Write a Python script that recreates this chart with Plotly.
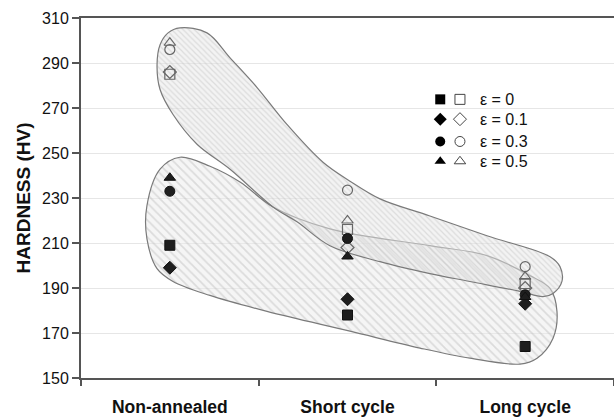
import plotly.graph_objects as go

# ---------------- data ----------------
categories = ["Non-annealed", "Short cycle", "Long cycle"]
cat_pos = [0, 1, 2]
series_names = ["ε = 0", "ε = 0.1", "ε = 0.3", "ε = 0.5"]
symbols = ["square", "diamond", "circle", "triangle-up"]

# filled markers (one per category)
filled_eps0 = [209, 178, 164]
filled_eps01 = [199, 185, 183]
filled_eps03 = [233, 212, 187]
filled_eps05 = [239, 204, 186]
# open markers
open_eps0 = [285, 216, 192]
open_eps01 = [286, 208, 190]
open_eps03 = [296, 233.5, 199.5]
open_eps05 = [299, 220, 195]

filled_series = [filled_eps0, filled_eps01, filled_eps03, filled_eps05]
open_series = [open_eps0, open_eps01, open_eps03, open_eps05]

# hand-drawn envelopes (category index, hardness)
upper_x = [0.057, 0.209, 0.339, 0.491, 0.659, 0.862, 1.014, 1.183, 1.464, 1.785, 2.140, 2.196, 2.207,
           2.157, 2.100, 1.971, 1.689, 1.464, 1.183, 0.901, 0.716, 0.581, 0.339, 0.153, 0.018,
           -0.055, -0.072, -0.055, -0.010, 0.057]
upper_y = [305.6, 303.4, 292.3, 279.1, 262.7, 245.9, 237.5, 229.6, 222.0, 213.2, 203.9, 199.5, 192.9,
           187.6, 186.2, 188.5, 192.9, 196.4, 201.7, 208.8, 219.4, 226.0, 242.8, 253.9, 267.1,
           278.2, 289.2, 298.1, 303.4, 305.6]
lower_x = [0.057, 0.226, 0.395, 0.581, 0.901, 1.464, 1.785, 2.027, 2.140, 2.179, 2.157, 2.067, 1.971,
           1.689, 1.408, 1.014, 0.547, 0.226, 0.018, -0.072, -0.129, -0.129, -0.055, 0.057]
lower_y = [248.1, 244.1, 237.1, 226.0, 216.3, 208.8, 204.4, 195.5, 189.8, 179.6, 167.7, 158.8, 156.2,
           158.8, 163.3, 170.8, 179.6, 186.7, 192.9, 198.6, 211.9, 226.5, 242.8, 248.1]

y_ticks = [150, 170, 190, 210, 230, 250, 270, 290, 310]
boundaries = [-0.5, 0.5, 1.5, 2.5]

# legend layout (overlay axis coords)
leg_rows_y = [0.774, 0.719, 0.657, 0.602]
leg_filled_x = 0.674
leg_open_x = 0.711
leg_text_x = 0.745

FONT = "Liberation Sans, Arial, sans-serif"
fig = go.Figure()

# envelopes
fig.add_trace(go.Scatter(
    x=lower_x, y=lower_y, mode="lines", fill="toself",
    line=dict(color="#7a7a7a", width=1.2, shape="spline", smoothing=1.0),
    fillcolor="rgba(0,0,0,0)",
    fillpattern=dict(shape="\\", size=6, solidity=0.3,
                     fgcolor="rgba(175,175,175,0.75)", bgcolor="rgba(236,236,236,0.5)"),
    hoverinfo="skip", showlegend=False))
fig.add_trace(go.Scatter(
    x=upper_x, y=upper_y, mode="lines", fill="toself",
    line=dict(color="#7a7a7a", width=1.2, shape="spline", smoothing=1.0),
    fillcolor="rgba(0,0,0,0)",
    fillpattern=dict(shape="\\", size=4, solidity=0.3,
                     fgcolor="rgba(175,175,175,0.7)", bgcolor="rgba(232,232,232,0.5)"),
    hoverinfo="skip", showlegend=False))

# markers
for name, sym, fs, os_ in zip(series_names, symbols, filled_series, open_series):
    fig.add_trace(go.Scatter(
        x=cat_pos, y=os_, mode="markers", name=name + " (open)",
        marker=dict(symbol=sym + "-open", size=10, color="#666666", line=dict(width=1.2)),
        showlegend=False))
    fig.add_trace(go.Scatter(
        x=cat_pos, y=fs, mode="markers", name=name,
        marker=dict(symbol=sym, size=10, color="#1e1e1e", line=dict(width=1, color="#111")),
        showlegend=False))

# custom legend on an overlay axis
for ry, name, sym in zip(leg_rows_y, series_names, symbols):
    fig.add_trace(go.Scatter(
        x=[leg_filled_x], y=[ry], xaxis="x2", yaxis="y2", mode="markers",
        marker=dict(symbol=sym, size=10, color="#000000"), showlegend=False, hoverinfo="skip"))
    fig.add_trace(go.Scatter(
        x=[leg_open_x], y=[ry], xaxis="x2", yaxis="y2", mode="markers",
        marker=dict(symbol=sym + "-open", size=10, color="#444444", line=dict(width=1)),
        showlegend=False, hoverinfo="skip"))
    fig.add_annotation(x=leg_text_x, y=ry, xref="x2", yref="y2", text=name, showarrow=False,
                       xanchor="left", yanchor="middle", font=dict(size=16, color="#111", family=FONT))

fig.update_layout(
    width=614, height=417,
    margin=dict(l=81, r=0, t=18, b=37),
    paper_bgcolor="white", plot_bgcolor="white",
    font=dict(family=FONT, color="#111"),
    xaxis=dict(
        range=[-0.5, 2.5], tickmode="array", tickvals=cat_pos, ticktext=["<b>%s</b>" % c for c in categories],
        ticks="", showgrid=False, zeroline=False,
        showline=True, linecolor="#555", linewidth=2, mirror=True,
        tickfont=dict(size=17.5, color="#111", family=FONT), ticklabelstandoff=12,
        minor=dict(tickmode="array", tickvals=boundaries, ticks="outside", ticklen=6,
                   tickcolor="#555", tickwidth=2, showgrid=False),
    ),
    yaxis=dict(
        range=[150, 310], tickmode="array", tickvals=y_ticks, ticks="outside", ticklen=7,
        tickcolor="#555", tickwidth=1.5,
        showgrid=True, gridcolor="#e6e6e6", gridwidth=1, zeroline=False,
        showline=True, linecolor="#555", linewidth=2,
        tickfont=dict(size=16, color="#111", family=FONT),
        title=dict(text="<b>HARDNESS (HV)</b>", font=dict(size=19, color="#111", family=FONT), standoff=6),
    ),
    xaxis2=dict(range=[0, 1], overlaying="x", visible=False, fixedrange=True),
    yaxis2=dict(range=[0, 1], overlaying="y", visible=False, fixedrange=True),
    showlegend=False,
)

fig.write_html("out.html")
